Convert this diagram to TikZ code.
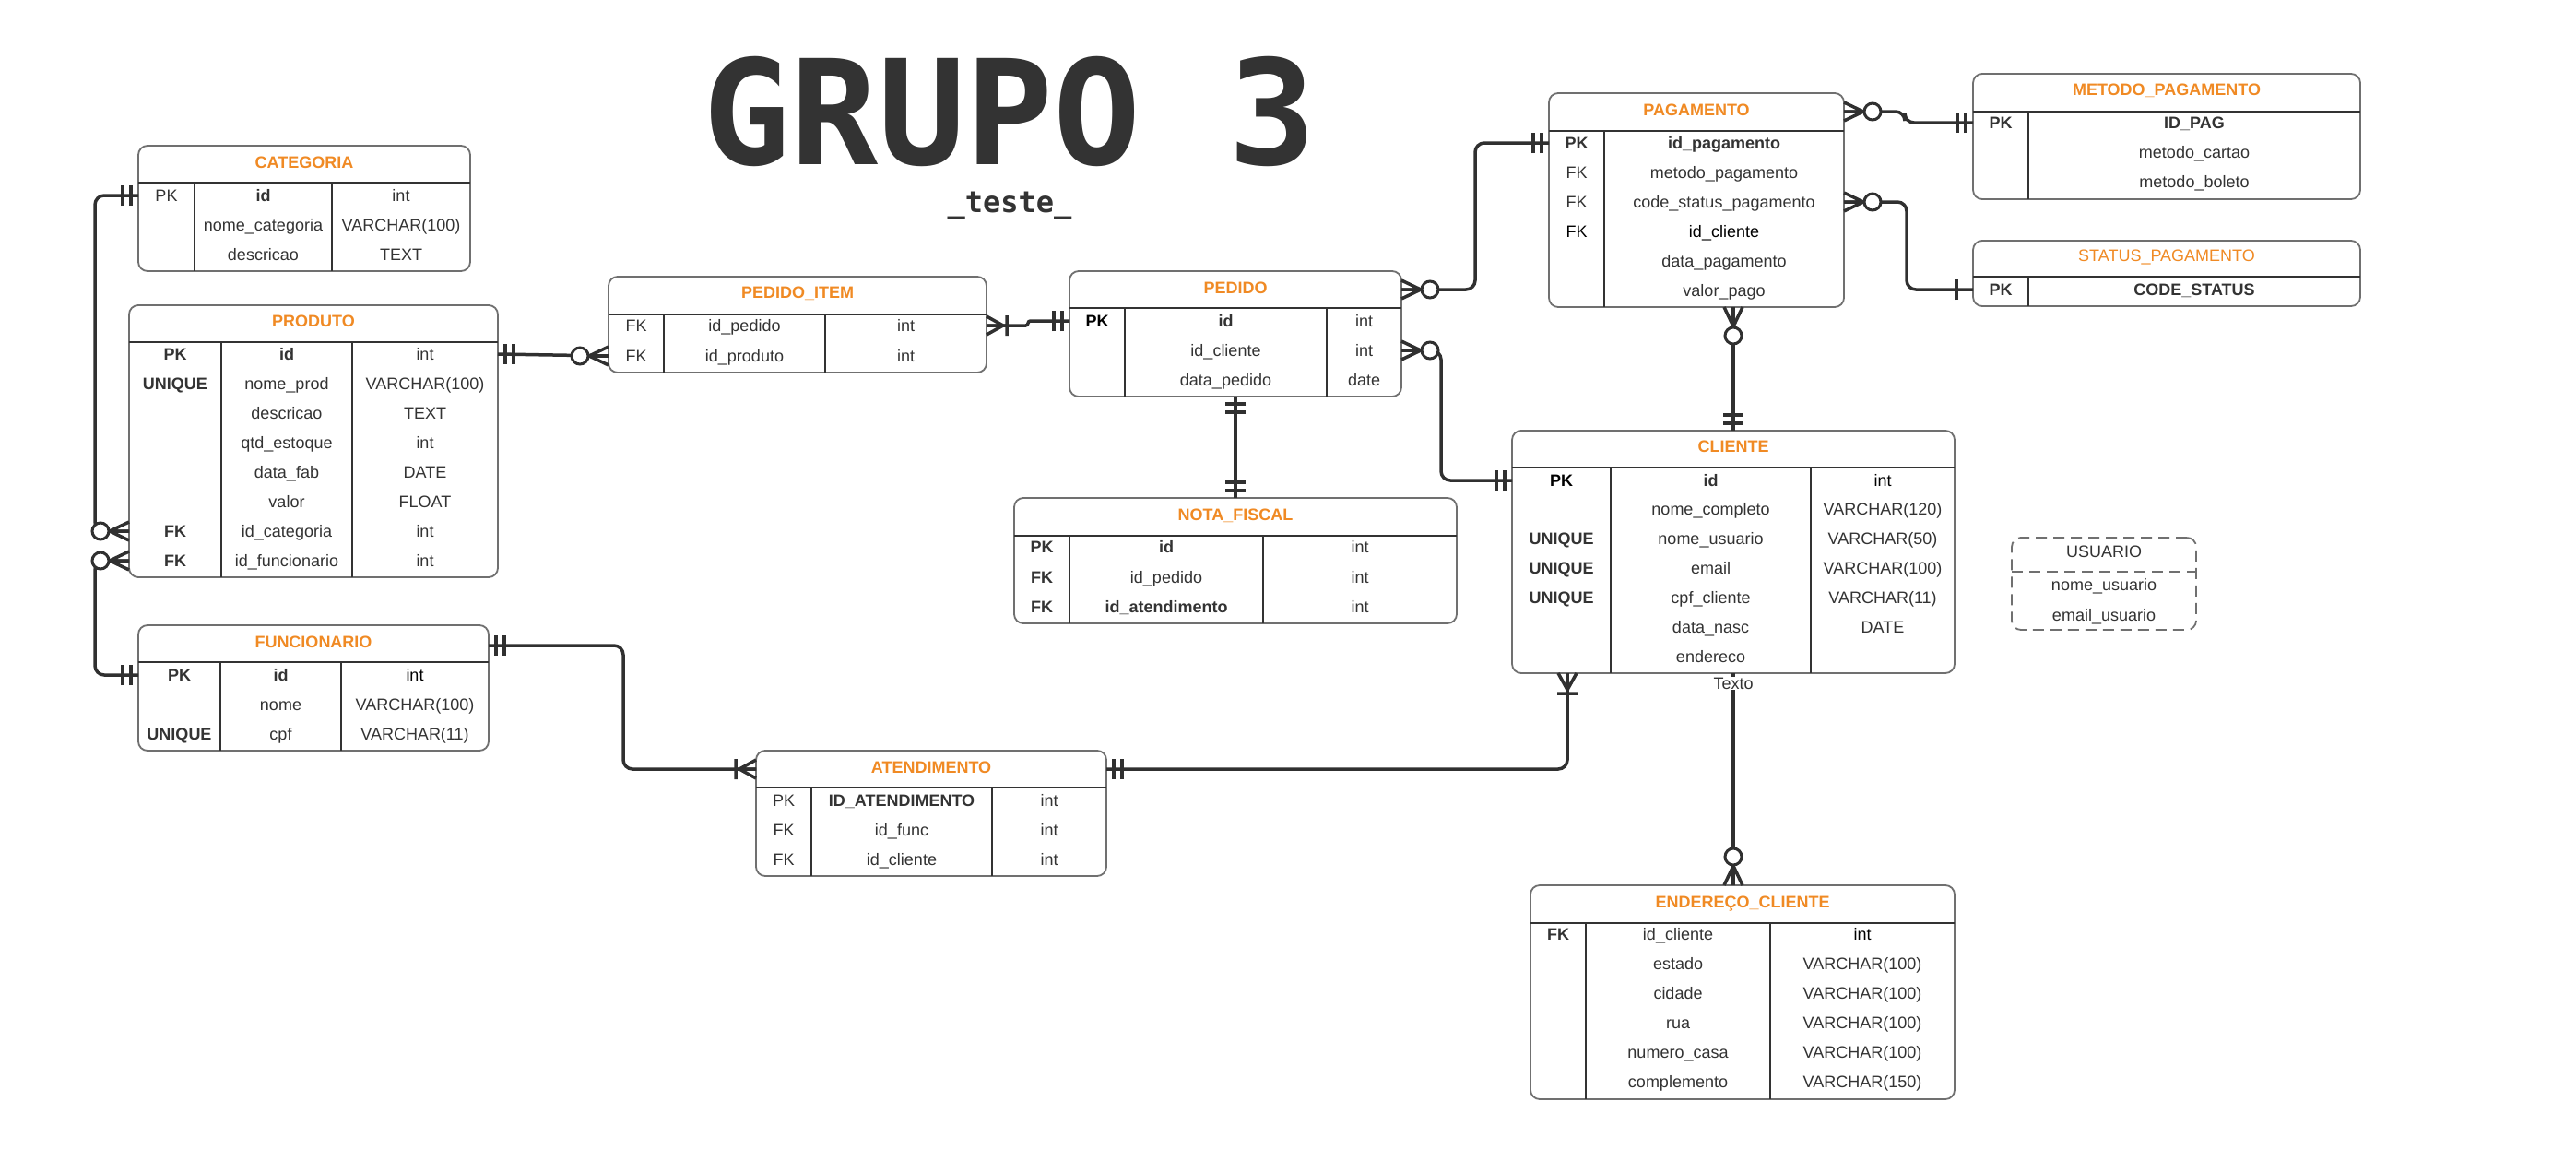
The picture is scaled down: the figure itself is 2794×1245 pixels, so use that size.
\documentclass[tikz,border=0pt]{standalone}
\usepackage{fontspec}
\setmainfont{Liberation Sans}
\newfontfamily\titlefont{DejaVu Sans Mono}
\usetikzlibrary{calc}
\definecolor{ink}{HTML}{333333}
\definecolor{ora}{HTML}{F08A24}
\definecolor{framec}{HTML}{707070}
\definecolor{conncol}{HTML}{303030}
\newcommand\B[1]{\textbf{#1}}
\newcommand\K[1]{\textcolor{black}{#1}}
\newcommand\ecell[4]{\if\relax\detokenize{#4}\relax\else\node[cell] (#1) at (#2,#3) {#4};\fi}
\newcommand\erow[8]{\coordinate (#1) at (0,#2);\ecell{#1a}{#3}{#2+6}{#6}\ecell{#1b}{#4}{#2+6}{#7}\ecell{#1c}{#5}{#2+6}{#8}}
\newcommand\erowb[6]{\coordinate (#1) at (0,#2);\ecell{#1a}{#3}{#2+6}{#5}\ecell{#1b}{#4}{#2+6}{#6}}
\tikzset{
  tbox/.style={draw=framec, line width=1.8pt, rounded corners=10pt, inner sep=0pt, outer sep=0pt, fill=white},
  ubox/.style={draw=framec, line width=1.8pt, dash pattern=on 12pt off 7pt, rounded corners=10pt, inner sep=0pt, outer sep=0pt},
  tline/.style={draw=ink, line width=1.8pt},
  cell/.style={inner sep=0pt, anchor=base, text=ink, font=\fontsize{18}{21}\selectfont},
  head/.style={cell, text=ora, font=\fontsize{18}{21}\selectfont\bfseries},
  conn/.style={draw=conncol, line width=3.5pt, rounded corners=10pt},
  mk/.style={draw=conncol, line width=3.5pt},
  ertwo/.pic={\draw[mk] (8,-11)--(8,11) (17,-11)--(17,11);},
  erone/.pic={\draw[mk] (18,-11)--(18,11);},
  erzmany/.pic={\draw[mk] (0,-10)--(21,0)--(0,10) (0,0)--(21,0);
                \draw[draw=conncol, line width=3pt, fill=white] (31,0) circle[radius=9pt];},
  eromany/.pic={\draw[mk] (0,-10)--(18,0)--(0,10) (0,0)--(22,0) (22,-11)--(22,11);},
}
\begin{document}
\begin{tikzpicture}[x=1pt,y=-1pt]
\fill[white] (0,0) rectangle (2794,1245);
\useasboundingbox (0,0) rectangle (2794,1245);

% title
\node[inner sep=0pt, text=ink, font=\titlefont\bfseries\fontsize{158}{160}\selectfont] (title) at (1095,121) {GRUPO 3};
\node[inner sep=0pt, anchor=base, text=ink, font=\titlefont\bfseries\fontsize{32}{36}\selectfont] (subtitle) at (1095,230) {\_teste\_};

% CATEGORIA
\node[tbox, minimum width=360pt, minimum height=136pt] (cat) at (330,226) {};
\draw[tline] (150,198)--(510,198) (211,198)--(211,294) (360,198)--(360,294);
\node[head] (catt) at (330,182) {CATEGORIA};
\erow{catr1}{212}{180.5}{285.5}{435}{PK}{\B{id}}{int}
\erow{catr2}{244}{180.5}{285.5}{435}{}{nome\_categoria}{VARCHAR(100)}
\erow{catr3}{276}{180.5}{285.5}{435}{}{descricao}{TEXT}

% PRODUTO
\node[tbox, minimum width=400pt, minimum height=295pt] (prod) at (340,478.5) {};
\draw[tline] (140,371)--(540,371) (240,371)--(240,626) (382,371)--(382,626);
\node[head] (prodt) at (340,354) {PRODUTO};
\erow{prodr1}{384}{190}{311}{461}{\B{PK}}{\B{id}}{int}
\erow{prodr2}{416}{190}{311}{461}{\B{UNIQUE}}{nome\_prod}{VARCHAR(100)}
\erow{prodr3}{448}{190}{311}{461}{}{descricao}{TEXT}
\erow{prodr4}{480}{190}{311}{461}{}{qtd\_estoque}{int}
\erow{prodr5}{512}{190}{311}{461}{}{data\_fab}{DATE}
\erow{prodr6}{544}{190}{311}{461}{}{valor}{FLOAT}
\erow{prodr7}{576}{190}{311}{461}{\B{FK}}{id\_categoria}{int}
\erow{prodr8}{608}{190}{311}{461}{\B{FK}}{id\_funcionario}{int}

% FUNCIONARIO
\node[tbox, minimum width=380pt, minimum height=136pt] (fun) at (340,746) {};
\draw[tline] (150,718)--(530,718) (239,718)--(239,814) (370,718)--(370,814);
\node[head] (funt) at (340,702) {FUNCIONARIO};
\erow{funr1}{732}{194.5}{304.5}{450}{\B{PK}}{\B{id}}{\K{int}}
\erow{funr2}{764}{194.5}{304.5}{450}{}{nome}{VARCHAR(100)}
\erow{funr3}{796}{194.5}{304.5}{450}{\B{UNIQUE}}{cpf}{VARCHAR(11)}

% PEDIDO_ITEM
\node[tbox, minimum width=410pt, minimum height=104pt] (pi) at (865,352) {};
\draw[tline] (660,341)--(1070,341) (720,341)--(720,404) (895,341)--(895,404);
\node[head] (pit) at (865,323) {PEDIDO\_ITEM};
\erow{pir1}{353}{690}{807.5}{982.5}{FK}{id\_pedido}{int}
\erow{pir2}{386}{690}{807.5}{982.5}{FK}{id\_produto}{int}

% PEDIDO
\node[tbox, minimum width=360pt, minimum height=136pt] (ped) at (1340,362) {};
\draw[tline] (1160,334)--(1520,334) (1220,334)--(1220,430) (1439,334)--(1439,430);
\node[head] (pedt) at (1340,318) {PEDIDO};
\erow{pedr1}{348}{1190}{1329.5}{1479.5}{\K{\B{PK}}}{\B{id}}{int}
\erow{pedr2}{380}{1190}{1329.5}{1479.5}{}{id\_cliente}{int}
\erow{pedr3}{412}{1190}{1329.5}{1479.5}{}{data\_pedido}{date}

% NOTA_FISCAL
\node[tbox, minimum width=480pt, minimum height=136pt] (nf) at (1340,608) {};
\draw[tline] (1100,581)--(1580,581) (1160,581)--(1160,676) (1370,581)--(1370,676);
\node[head] (nft) at (1340,564) {NOTA\_FISCAL};
\erow{nfr1}{593}{1130}{1265}{1475}{\B{PK}}{\B{id}}{int}
\erow{nfr2}{626}{1130}{1265}{1475}{\B{FK}}{id\_pedido}{int}
\erow{nfr3}{658}{1130}{1265}{1475}{\B{FK}}{\B{id\_atendimento}}{int}

% PAGAMENTO
\node[tbox, minimum width=320pt, minimum height=232pt] (pag) at (1840,217) {};
\draw[tline] (1680,142)--(2000,142) (1740,142)--(1740,333);
\node[head] (pagt) at (1840,125) {PAGAMENTO};
\erowb{pagr1}{155}{1710}{1870}{\B{PK}}{\B{id\_pagamento}}
\erowb{pagr2}{187}{1710}{1870}{FK}{metodo\_pagamento}
\erowb{pagr3}{219}{1710}{1870}{FK}{code\_status\_pagamento}
\erowb{pagr4}{251}{1710}{1870}{\K{FK}}{\K{id\_cliente}}
\erowb{pagr5}{283}{1710}{1870}{}{data\_pagamento}
\erowb{pagr6}{315}{1710}{1870}{}{valor\_pago}

% METODO_PAGAMENTO
\node[tbox, minimum width=420pt, minimum height=136pt] (met) at (2350,148) {};
\draw[tline] (2140,121)--(2560,121) (2200,121)--(2200,216);
\node[head] (mett) at (2350,103) {METODO\_PAGAMENTO};
\erowb{metr1}{133}{2170}{2380}{\B{PK}}{\B{ID\_PAG}}
\erowb{metr2}{165}{2170}{2380}{}{metodo\_cartao}
\erowb{metr3}{197}{2170}{2380}{}{metodo\_boleto}

% STATUS_PAGAMENTO
\node[tbox, minimum width=420pt, minimum height=71pt] (sta) at (2350,296.5) {};
\draw[tline] (2140,300)--(2560,300) (2200,300)--(2200,332);
\node[cell, text=ora] (stat) at (2350,283) {STATUS\_PAGAMENTO};
\erowb{star1}{314}{2170}{2380}{\B{PK}}{\B{CODE\_STATUS}}

% CLIENTE
\node[tbox, minimum width=480pt, minimum height=263pt] (cli) at (1880,598.5) {};
\draw[tline] (1640,507)--(2120,507) (1747,507)--(1747,730) (1964,507)--(1964,730);
\node[head] (clit) at (1880,490) {CLIENTE};
\erow{clir1}{521}{1693.5}{1855.5}{2042}{\K{\B{PK}}}{\B{id}}{\K{int}}
\erow{clir2}{552}{1693.5}{1855.5}{2042}{}{nome\_completo}{VARCHAR(120)}
\erow{clir3}{584}{1693.5}{1855.5}{2042}{\B{UNIQUE}}{nome\_usuario}{VARCHAR(50)}
\erow{clir4}{616}{1693.5}{1855.5}{2042}{\B{UNIQUE}}{email}{VARCHAR(100)}
\erow{clir5}{648}{1693.5}{1855.5}{2042}{\B{UNIQUE}}{cpf\_cliente}{VARCHAR(11)}
\erow{clir6}{680}{1693.5}{1855.5}{2042}{}{data\_nasc}{DATE}
\erow{clir7}{712}{1693.5}{1855.5}{2042}{}{endereco}{}

% ENDERECO_CLIENTE
\node[tbox, minimum width=460pt, minimum height=232pt] (endc) at (1890,1076) {};
\draw[tline] (1660,1001)--(2120,1001) (1720,1001)--(1720,1192) (1920,1001)--(1920,1192);
\node[head] (endct) at (1890,984) {ENDEREÇO\_CLIENTE};
\erow{endr1}{1013}{1690}{1820}{2020}{\B{FK}}{id\_cliente}{\K{int}}
\erow{endr2}{1045}{1690}{1820}{2020}{}{estado}{VARCHAR(100)}
\erow{endr3}{1077}{1690}{1820}{2020}{}{cidade}{VARCHAR(100)}
\erow{endr4}{1109}{1690}{1820}{2020}{}{rua}{VARCHAR(100)}
\erow{endr5}{1141}{1690}{1820}{2020}{}{numero\_casa}{VARCHAR(100)}
\erow{endr6}{1173}{1690}{1820}{2020}{}{complemento}{VARCHAR(150)}

% ATENDIMENTO
\node[tbox, minimum width=380pt, minimum height=136pt] (aten) at (1010,882) {};
\draw[tline] (820,854)--(1200,854) (880,854)--(880,950) (1076,854)--(1076,950);
\node[head] (atent) at (1010,838) {ATENDIMENTO};
\erow{atenr1}{868}{850}{978}{1138}{PK}{\B{ID\_ATENDIMENTO}}{int}
\erow{atenr2}{900}{850}{978}{1138}{FK}{id\_func}{int}
\erow{atenr3}{932}{850}{978}{1138}{FK}{id\_cliente}{int}

% USUARIO
\node[ubox, minimum width=200pt, minimum height=100pt] (usu) at (2282,633) {};
\draw[draw=framec, line width=1.8pt, dash pattern=on 12pt off 7pt] (2182,620)--(2382,620);
\node[cell] (usut) at (2282,604) {USUARIO};
\node[cell] (usu1) at (2282,640) {nome\_usuario};
\node[cell] (usu2) at (2282,673) {email\_usuario};

% helper coordinates
\coordinate (busl) at (103,0);
\coordinate (kped) at (1600,0);
\coordinate (kcli) at (1563,0);
\coordinate (kmet) at (2066,0);
\coordinate (ksta) at (2068,0);
\coordinate (kfun) at (676,0);
\coordinate (kat) at (1700,0);
\coordinate (kpi) at (1115,0);
\coordinate (pedh) at (0,314);
\coordinate (pagh) at (0,121);
\coordinate (funh) at (0,700);
\coordinate (atenh) at (0,834);

% connectors
\draw[conn] (cat.west |- catr1) -- (busl |- catr1) -- (busl |- prodr7) -- (prod.west |- prodr7);
\draw[conn] (fun.west |- funr1) -- (busl |- funr1) -- (busl |- prodr8) -- (prod.west |- prodr8);
\draw[conn] (prod.east |- prodr1) -- (pi.west |- pir2);
\draw[conn, rounded corners=2.5pt] (pi.east |- pir1) -- (kpi |- pir1) -- (kpi |- pedr1) -- (ped.west |- pedr1);
\draw[conn] (ped.east |- pedh) -- (kped |- pedh) -- (kped |- pagr1) -- (pag.west |- pagr1);
\draw[conn] (ped.east |- pedr2) -- (kcli |- pedr2) -- (kcli |- clir1) -- (cli.west |- clir1);
\draw[conn] (ped.south) -- (nf.north);
\draw[conn] (pag.east |- pagh) -- (kmet |- pagh) -- (kmet |- metr1) -- (met.west |- metr1);
\draw[conn] (pag.east |- pagr3) -- (ksta |- pagr3) -- (ksta |- star1) -- (sta.west |- star1);
\draw[conn] (pag.south -| cli.north) -- (cli.north);
\draw[conn] (cli.south) -- (endc.north -| cli.south);
\draw[conn] (cli.south -| kat) -- (kat |- atenh) -- (aten.east |- atenh);
\draw[conn] (fun.east |- funh) -- (kfun |- funh) -- (kfun |- atenh) -- (aten.west |- atenh);

\node[cell, fill=white, inner sep=1pt] (texto) at (1880,747) {Texto};

% markers
\pic[rotate=180] at (cat.west |- catr1) {ertwo};
\pic[rotate=180] at (prod.west |- prodr7) {erzmany};
\pic[rotate=180] at (fun.west |- funr1) {ertwo};
\pic[rotate=180] at (prod.west |- prodr8) {erzmany};
\pic at (prod.east |- prodr1) {ertwo};
\pic[rotate=180] at (pi.west |- pir2) {erzmany};
\pic at (pi.east |- pir1) {eromany};
\pic[rotate=180] at (ped.west |- pedr1) {ertwo};
\pic at (ped.east |- pedh) {erzmany};
\pic[rotate=180] at (pag.west |- pagr1) {ertwo};
\pic at (ped.east |- pedr2) {erzmany};
\pic[rotate=180] at (cli.west |- clir1) {ertwo};
\pic[rotate=-90] at (ped.south) {ertwo};
\pic[rotate=90] at (nf.north) {ertwo};
\pic at (pag.east |- pagh) {erzmany};
\pic[rotate=180] at (met.west |- metr1) {ertwo};
\pic at (pag.east |- pagr3) {erzmany};
\pic[rotate=180] at (sta.west |- star1) {erone};
\pic[rotate=-90] at (pag.south -| cli.north) {erzmany};
\pic[rotate=90] at (cli.north) {ertwo};
\pic[rotate=90] at (endc.north -| cli.south) {erzmany};
\pic[rotate=-90] at (cli.south -| kat) {eromany};
\pic at (aten.east |- atenh) {ertwo};
\pic at (fun.east |- funh) {ertwo};
\pic[rotate=180] at (aten.west |- atenh) {eromany};
\end{tikzpicture}
\end{document}
